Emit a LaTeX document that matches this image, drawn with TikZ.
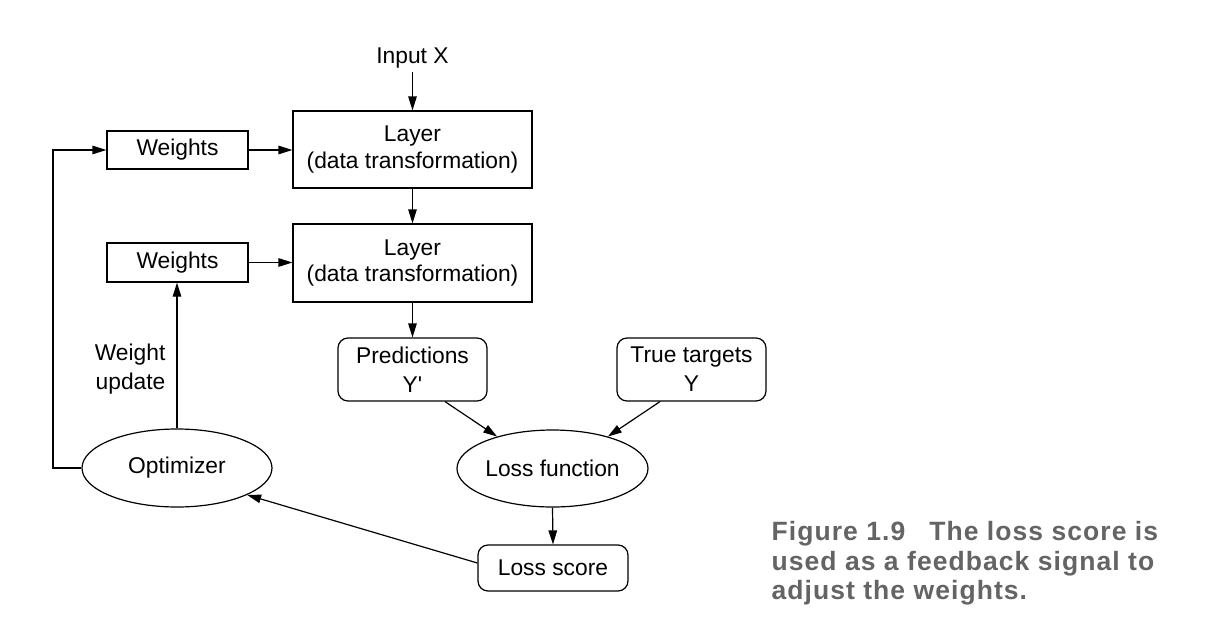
\documentclass[tikz,border=0pt]{standalone}
\usepackage{fontspec}
\setmainfont{Liberation Sans}
\newfontfamily\capfont[LetterSpace=4]{Liberation Sans}
\usetikzlibrary{shapes.geometric,arrows.meta}
\definecolor{capgray}{RGB}{100,100,100}
\begin{document}
\begin{tikzpicture}[x=1pt,y=-1pt, line width=1.2pt,
  arr/.style={-{Triangle[length=14pt,width=8.5pt]}},
  txt/.style={font=\fontsize{22.8}{29}\selectfont},
  box/.style={txt, draw, rectangle, inner sep=0pt, align=center},
  rbox/.style={box, rounded corners=10pt},
  ell/.style={txt, draw, ellipse, inner sep=0pt, align=center},
  lbl/.style={txt, inner sep=0pt, align=center}]
\useasboundingbox (0,0) rectangle (1224,640);

\node[lbl, anchor=base, inner sep=4pt] (inputx) at (412.5,63) {Input X};
\node[box, minimum width=239pt, minimum height=77pt, font=\fontsize{22.8}{26.5}\selectfont] (layer1) at (412.5,149.5) {Layer\\(data transformation)};
\node[box, minimum width=239pt, minimum height=78pt, font=\fontsize{22.8}{26.5}\selectfont] (layer2) at (412.5,263) {Layer\\(data transformation)};
\node[box, minimum width=141pt, minimum height=38pt] (w1) at (177.5,150) {Weights};
\node[box, minimum width=141pt, minimum height=39pt] (w2) at (177.5,262.5) {Weights};
\node[rbox, minimum width=149pt, minimum height=63pt] (pred) at (412.5,369.5) {Predictions\\Y\textquotesingle};
\node[rbox, minimum width=149pt, minimum height=63pt] (truet) at (691.5,369.5) {True targets\\Y};
\node[ell, minimum width=191pt, minimum height=77pt] (lossf) at (552.5,468.5) {Loss function};
\node[ell, minimum width=190pt, minimum height=78pt] (opt) at (177,468) {Optimizer};
\node[rbox, minimum width=150pt, minimum height=46pt] (losss) at (553,568) {Loss score};
\node[lbl, anchor=east, align=right] (wu) at (166,369) {Weight\\update};

\node[anchor=north west, inner sep=0pt, align=left, text=capgray,
      font=\capfont\fontsize{26.5}{29.5}\selectfont\bfseries] (cap) at (771,521)
  {Figure 1.9\hspace{24pt}The loss score is\\used as a feedback signal to\\adjust the weights.};

\coordinate (lc) at (53,468);

\draw[arr] (inputx.south) -- (layer1.north);
\draw[arr] (layer1.south) -- (layer2.north);
\draw[arr] (w1.east) -- (w1.east -| layer1.west);
\draw[arr] (w2.east) -- (w2.east -| layer2.west);
\draw[arr] (layer2.south) -- (pred.north);
\draw[arr] ([xshift=32.5pt]pred.south) -- (lossf.150);
\draw[arr] ([xshift=-31.5pt]truet.south) -- (lossf.30);
\draw[arr] (lossf.south) -- (losss.north);
\draw[arr] ([yshift=5pt]losss.west) -- (opt.-21);
\draw[arr] (opt.north) -- (opt.north |- w2.south);
\draw[arr] (opt.west) -- (lc) |- (w1.west);
\end{tikzpicture}
\end{document}
